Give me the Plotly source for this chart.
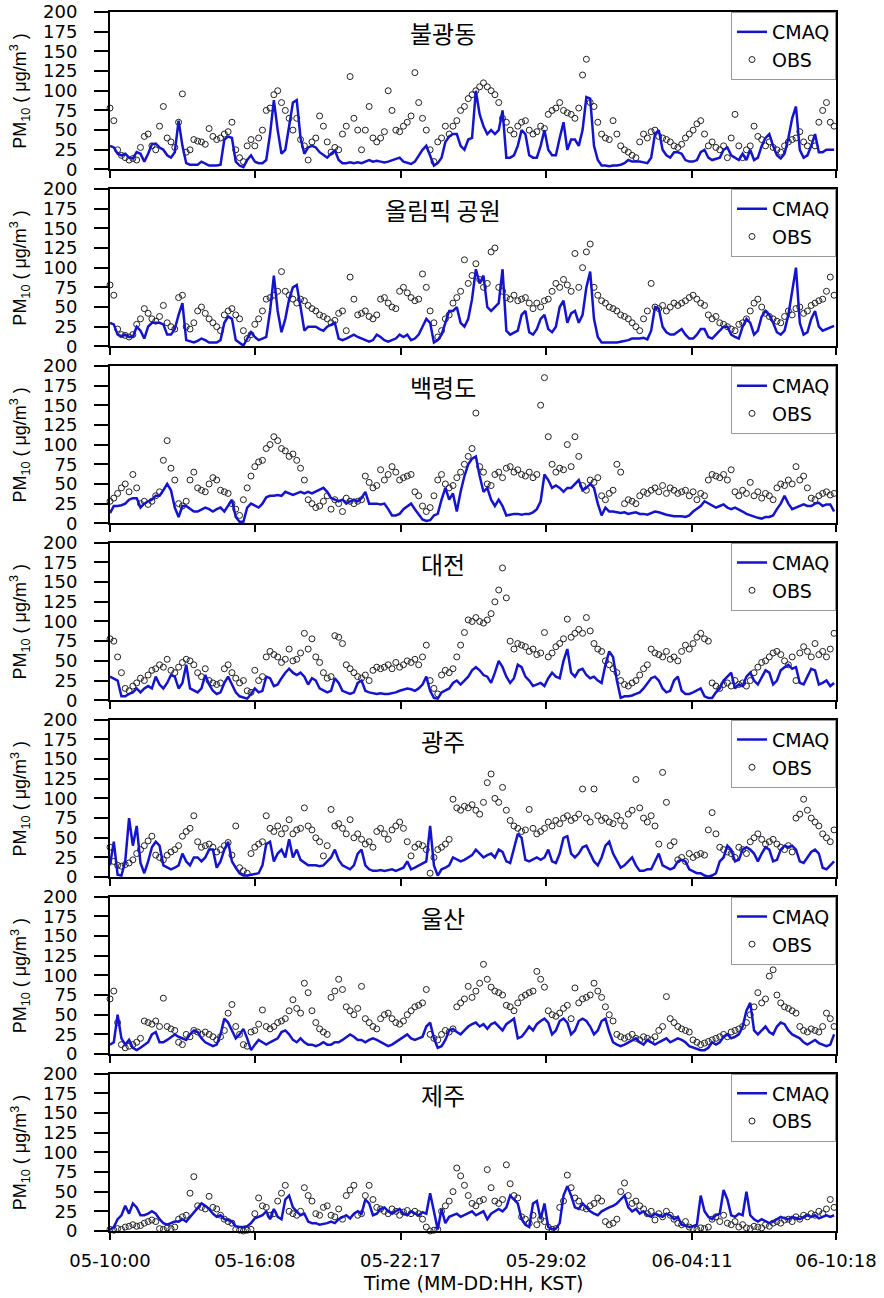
import plotly.graph_objects as go
from plotly.subplots import make_subplots

# ---------------- data (4-hourly samples) ----------------
hours = list(range(0, 761, 4))  # hours since 05-10:00 KST
stations = ["불광동", "올림픽 공원", "백령도", "대전", "광주", "울산", "제주"]
tick_hours = [0, 152, 305, 458, 611, 762]
tick_labels = ["05-10:00", "05-16:08", "05-22:17", "05-29:02", "06-04:11", "06-10:18"]
y_ticks = [0, 25, 50, 75, 100, 125, 150, 175, 200]

cmaq_bulgwang = [
    30, 28, 20, 18, 20, 15, 14, 22, 20, 10, 20, 32, 33, 28, 25, 18, 15, 22,
    62, 30, 8, 6, 6, 6, 10, 8, 5, 5, 5, 6, 38, 42, 40, 10, 5, 3,
    12, 18, 10, 8, 8, 12, 45, 88, 50, 20, 25, 55, 85, 88, 40, 20, 28, 30,
    28, 22, 18, 15, 20, 24, 12, 8, 8, 9, 8, 9, 8, 10, 12, 10, 11, 10,
    9, 10, 12, 14, 15, 10, 8, 7, 10, 18, 25, 30, 18, 5, 8, 15, 35, 42,
    45, 45, 30, 25, 38, 40, 100, 70, 55, 45, 50, 45, 50, 75, 15, 15, 18, 30,
    50, 45, 18, 15, 15, 30, 50, 25, 18, 18, 40, 60, 25, 38, 38, 30, 50, 92,
    90, 30, 12, 5, 5, 4, 5, 5, 6, 8, 12, 10, 10, 10, 9, 8, 15, 45,
    50, 25, 18, 15, 22, 22, 20, 12, 10, 10, 12, 22, 25, 15, 12, 14, 15, 25,
    28, 18, 15, 12, 20, 12, 25, 12, 15, 30, 40, 45, 30, 18, 14, 20, 40, 65,
    80, 25, 15, 18, 30, 45, 22, 22, 25, 25, 25]
obs_bulgwang = [
    78, 62, 25, 18, 15, 12, 14, 12, 28, 42, 45, 30, 25, 55, 80, 40, 35, 28,
    60, 96, 22, 25, 38, 36, 35, 32, 52, 42, 38, 40, 45, 48, 60, 25, 15, 10,
    30, 38, 30, 40, 50, 75, 78, 95, 100, 85, 75, 65, 50, 65, 38, 30, 12, 35,
    40, 68, 55, 35, 22, 28, 25, 45, 55, 118, 65, 50, 25, 50, 80, 40, 35, 40,
    48, 100, 75, 50, 48, 55, 60, 68, 123, 85, 65, 50, 25, 10, 35, 40, 55, 45,
    55, 62, 75, 80, 90, 95, 100, 105, 110, 105, 100, 95, 85, 65, 60, 50, 45, 55,
    60, 62, 50, 45, 48, 55, 52, 70, 75, 78, 85, 75, 72, 70, 65, 78, 120, 140,
    85, 80, 60, 45, 40, 38, 62, 45, 30, 25, 22, 18, 15, 35, 45, 40, 48, 50,
    42, 40, 38, 35, 30, 28, 32, 40, 45, 50, 58, 62, 45, 30, 35, 28, 25, 30,
    15, 40, 70, 30, 15, 25, 30, 55, 42, 38, 30, 35, 28, 25, 22, 30, 35, 38,
    40, 48, 35, 30, 40, 30, 60, 75, 85, 60, 55]

cmaq_olympic = [
    30, 28, 15, 13, 15, 12, 12, 25, 20, 10, 25, 30, 30, 30, 28, 15, 15, 22,
    40, 55, 8, 6, 5, 7, 10, 8, 5, 5, 5, 8, 30, 38, 35, 8, 4, 1,
    10, 18, 12, 8, 10, 12, 45, 90, 45, 18, 35, 60, 75, 78, 50, 20, 25, 25,
    25, 22, 20, 25, 28, 30, 10, 8, 10, 12, 15, 12, 10, 8, 6, 8, 15, 12,
    8, 6, 8, 10, 15, 12, 15, 8, 10, 15, 25, 35, 30, 5, 8, 15, 30, 45,
    45, 50, 30, 25, 35, 60, 98, 80, 90, 50, 45, 50, 55, 98, 20, 15, 18, 20,
    40, 45, 18, 15, 22, 35, 40, 22, 18, 25, 50, 58, 30, 42, 45, 30, 40, 75,
    95, 35, 12, 5, 5, 5, 5, 5, 6, 7, 8, 10, 10, 10, 11, 9, 20, 50,
    48, 25, 18, 15, 15, 18, 22, 15, 10, 10, 15, 22, 22, 12, 10, 15, 20, 25,
    25, 15, 12, 10, 25, 35, 30, 15, 20, 38, 45, 40, 30, 18, 15, 20, 40, 70,
    100, 30, 15, 18, 35, 45, 25, 20, 22, 25, 26]
obs_olympic = [
    78, 65, 22, 15, 14, 12, 15, 28, 35, 48, 42, 35, 32, 38, 52, 30, 25, 22,
    62, 65, 25, 22, 30, 45, 50, 42, 35, 30, 25, 20, 40, 45, 48, 40, 35, 20,
    10, 15, 28, 35, 45, 60, 62, 65, 70, 95, 70, 65, 60, 55, 60, 58, 52, 48,
    45, 40, 38, 35, 30, 33, 42, 45, 20, 88, 60, 40, 42, 45, 38, 35, 40, 60,
    62, 55, 50, 48, 70, 75, 68, 62, 58, 60, 92, 75, 45, 30, 12, 20, 35, 40,
    55, 62, 70, 110, 80, 90, 105, 85, 75, 80, 120, 125, 75, 70, 62, 60, 65, 58,
    60, 62, 55, 48, 55, 50, 58, 60, 70, 80, 75, 85, 78, 70, 118, 75, 100, 120,
    130, 75, 65, 58, 55, 50, 48, 45, 40, 38, 35, 30, 25, 20, 35, 45, 80, 50,
    48, 52, 45, 50, 55, 52, 55, 58, 62, 65, 60, 55, 52, 40, 35, 38, 30, 28,
    25, 22, 20, 28, 30, 35, 45, 55, 60, 50, 42, 38, 35, 32, 30, 38, 45, 40,
    48, 50, 42, 45, 52, 55, 58, 60, 70, 88, 65]

cmaq_baengnyeong = [
    13, 22, 22, 23, 25, 30, 32, 32, 20, 25, 28, 30, 35, 35, 42, 50, 42, 20,
    8, 22, 22, 18, 15, 15, 18, 20, 18, 15, 18, 20, 15, 22, 30, 8, 2, 2,
    20, 25, 22, 20, 25, 33, 35, 35, 36, 35, 40, 38, 36, 38, 40, 38, 40, 38,
    40, 42, 45, 40, 32, 30, 28, 30, 25, 28, 30, 28, 32, 40, 25, 25, 25, 24,
    25, 18, 10, 10, 12, 18, 22, 25, 18, 12, 5, 3, 4, 10, 12, 30, 45, 30,
    38, 15, 40, 60, 75, 82, 85, 60, 40, 45, 30, 22, 30, 22, 10, 11, 12, 12,
    11, 12, 12, 14, 18, 28, 62, 55, 45, 48, 45, 40, 45, 45, 50, 55, 42, 45,
    50, 45, 25, 10, 20, 15, 15, 14, 13, 14, 12, 13, 14, 12, 12, 11, 13, 15,
    14, 12, 11, 10, 9, 9, 9, 8, 10, 15, 18, 22, 28, 25, 22, 20, 22, 24,
    20, 18, 20, 18, 15, 12, 10, 8, 7, 6, 8, 8, 10, 18, 25, 35, 25, 18,
    20, 22, 24, 22, 22, 25, 26, 22, 24, 24, 15]
obs_baengnyeong = [
    28, 32, 38, 45, 50, 40, 62, 45, 25, 28, 24, 28, 35, 40, 80, 105, 70, 55,
    25, 22, 28, 55, 65, 45, 42, 40, 50, 58, 55, 42, 40, 38, 25, 18, 10, 30,
    45, 60, 72, 78, 80, 95, 100, 110, 105, 95, 92, 85, 88, 80, 70, 55, 30, 25,
    20, 22, 28, 35, 18, 30, 25, 15, 32, 28, 25, 28, 30, 60, 52, 45, 48, 68,
    55, 62, 72, 65, 55, 58, 60, 62, 40, 35, 22, 15, 20, 35, 55, 62, 50, 45,
    48, 58, 65, 75, 85, 95, 140, 72, 65, 50, 48, 62, 65, 58, 70, 72, 65, 68,
    62, 60, 65, 58, 62, 150, 185, 110, 75, 65, 70, 68, 100, 72, 110, 85, 48, 42,
    55, 52, 58, 35, 30, 38, 42, 75, 65, 25, 30, 28, 25, 35, 40, 38, 42, 45,
    40, 48, 38, 45, 42, 38, 40, 42, 35, 40, 30, 38, 35, 55, 62, 60, 58, 62,
    55, 68, 40, 35, 42, 38, 52, 35, 40, 32, 38, 35, 30, 45, 50, 48, 55, 50,
    72, 55, 60, 45, 32, 30, 35, 38, 40, 36, 38]

cmaq_daejeon = [
    30, 28, 25, 5, 5, 8, 10, 15, 10, 15, 18, 15, 30, 20, 15, 22, 32, 30,
    15, 22, 45, 15, 12, 10, 15, 32, 20, 12, 8, 10, 22, 30, 20, 10, 5, 3,
    2, 8, 15, 10, 12, 30, 28, 18, 20, 28, 35, 40, 35, 32, 35, 30, 20, 28,
    25, 15, 12, 10, 12, 28, 22, 12, 10, 8, 10, 22, 25, 12, 10, 9, 8, 9,
    8, 8, 9, 10, 12, 14, 15, 14, 12, 15, 20, 30, 12, 3, 2, 10, 12, 15,
    22, 25, 20, 25, 30, 38, 42, 38, 32, 30, 22, 35, 50, 42, 30, 22, 28, 45,
    42, 30, 25, 18, 20, 22, 18, 28, 35, 30, 28, 50, 65, 35, 30, 38, 40, 32,
    28, 30, 25, 22, 45, 62, 55, 25, 3, 5, 5, 6, 8, 10, 15, 22, 28, 30,
    25, 15, 10, 12, 25, 30, 12, 8, 8, 10, 12, 15, 5, 3, 3, 10, 15, 25,
    30, 35, 15, 20, 18, 30, 35, 25, 20, 30, 38, 35, 20, 25, 38, 42, 45, 40,
    42, 22, 20, 30, 40, 38, 20, 22, 25, 18, 22]
obs_daejeon = [
    78, 75, 55, 35, 15, 12, 18, 22, 28, 25, 32, 38, 40, 45, 42, 52, 38, 35,
    42, 48, 52, 50, 45, 35, 30, 40, 25, 22, 20, 22, 40, 45, 35, 28, 22, 25,
    12, 10, 38, 25, 30, 55, 62, 58, 55, 48, 52, 65, 50, 52, 60, 85, 65, 78,
    55, 48, 35, 28, 30, 82, 80, 72, 45, 40, 35, 30, 28, 32, 25, 38, 42, 40,
    42, 45, 40, 48, 42, 45, 50, 48, 52, 45, 55, 70, 25, 15, 8, 32, 38, 35,
    40, 55, 70, 86, 102, 100, 105, 100, 98, 102, 110, 125, 140, 168, 130, 75, 65, 72,
    70, 68, 62, 65, 58, 60, 86, 55, 60, 68, 72, 78, 103, 80, 85, 90, 85, 105,
    88, 72, 65, 62, 50, 45, 40, 35, 25, 20, 18, 22, 25, 32, 40, 45, 65, 60,
    58, 55, 62, 52, 55, 50, 62, 70, 65, 72, 80, 85, 78, 75, 22, 18, 15, 20,
    22, 18, 25, 20, 22, 18, 25, 35, 42, 48, 50, 55, 60, 62, 58, 50, 45, 55,
    25, 60, 68, 62, 55, 72, 58, 62, 55, 65, 85]

cmaq_gwangju = [
    15, 45, 3, 2, 20, 75, 40, 65, 18, 5, 20, 38, 45, 40, 15, 12, 10, 12,
    15, 30, 20, 15, 25, 25, 20, 25, 35, 35, 12, 20, 35, 45, 20, 12, 5, 2,
    2, 3, 4, 5, 15, 42, 45, 20, 30, 35, 25, 48, 25, 35, 22, 18, 15, 15,
    15, 14, 15, 20, 25, 35, 22, 15, 12, 10, 15, 30, 35, 15, 10, 8, 8, 9,
    8, 9, 10, 8, 10, 12, 20, 10, 12, 15, 18, 20, 65, 15, 2, 10, 12, 15,
    25, 22, 20, 22, 25, 28, 35, 30, 25, 28, 30, 25, 35, 32, 20, 18, 35, 55,
    50, 22, 20, 22, 25, 22, 25, 35, 20, 18, 30, 50, 52, 30, 25, 30, 38, 40,
    30, 20, 15, 25, 40, 45, 30, 20, 12, 15, 20, 25, 15, 8, 8, 10, 10, 20,
    30, 15, 12, 10, 12, 20, 22, 20, 10, 8, 5, 5, 2, 1, 2, 5, 20, 25,
    40, 35, 20, 22, 35, 38, 35, 30, 20, 30, 38, 35, 20, 22, 35, 40, 38, 40,
    35, 20, 18, 25, 32, 35, 30, 12, 10, 15, 20]
obs_gwangju = [
    38, 20, 15, 14, 16, 18, 22, 30, 35, 40, 46, 52, 28, 25, 22, 28, 32, 35,
    40, 52, 58, 62, 78, 45, 38, 40, 42, 38, 32, 35, 40, 44, 28, 65, 12, 8,
    5, 30, 38, 42, 45, 78, 62, 58, 65, 55, 62, 73, 55, 60, 62, 88, 65, 60,
    50, 45, 27, 40, 86, 65, 68, 62, 55, 73, 50, 55, 48, 42, 45, 38, 58, 62,
    55, 48, 60, 65, 70, 62, 45, 27, 38, 42, 40, 35, 5, 25, 35, 38, 42, 48,
    99, 88, 85, 90, 88, 92, 85, 80, 95, 120, 131, 100, 95, 114, 85, 72, 65, 62,
    58, 60, 86, 62, 55, 58, 62, 70, 65, 72, 68, 75, 78, 72, 75, 80, 112, 75,
    70, 112, 78, 72, 75, 70, 68, 78, 72, 65, 80, 85, 124, 88, 75, 70, 78, 65,
    42, 133, 95, 40, 45, 22, 25, 20, 30, 25, 28, 30, 28, 60, 82, 55, 38, 35,
    32, 30, 25, 38, 35, 30, 45, 50, 55, 48, 42, 45, 48, 42, 38, 35, 40, 32,
    75, 80, 99, 85, 75, 70, 65, 55, 50, 45, 60]

cmaq_ulsan = [
    12, 15, 50, 20, 12, 18, 8, 5, 8, 12, 15, 25, 28, 15, 15, 18, 22, 25,
    22, 20, 18, 25, 30, 28, 20, 15, 12, 10, 12, 25, 45, 40, 30, 20, 25, 32,
    20, 5, 12, 18, 15, 12, 15, 18, 20, 28, 30, 25, 18, 15, 20, 15, 12, 12,
    10, 12, 15, 12, 12, 15, 15, 18, 22, 25, 22, 18, 18, 15, 18, 20, 18, 15,
    12, 10, 12, 15, 18, 22, 25, 20, 18, 20, 22, 35, 40, 20, 8, 10, 18, 30,
    32, 28, 25, 30, 35, 38, 40, 35, 38, 32, 38, 40, 35, 30, 38, 42, 45, 20,
    22, 28, 35, 30, 38, 42, 45, 40, 25, 30, 42, 45, 40, 25, 30, 42, 45, 42,
    35, 25, 30, 42, 45, 28, 15, 12, 10, 12, 15, 18, 20, 15, 12, 18, 15, 12,
    15, 18, 20, 15, 18, 20, 18, 15, 10, 8, 6, 5, 5, 8, 15, 12, 15, 22,
    25, 20, 22, 25, 35, 55, 65, 30, 25, 30, 35, 28, 25, 35, 40, 38, 30, 25,
    22, 20, 15, 12, 15, 18, 14, 12, 10, 12, 25]
obs_ulsan = [
    70, 80, 40, 12, 8, 10, 12, 15, 20, 42, 40, 38, 42, 35, 71, 35, 32, 30,
    15, 12, 25, 22, 30, 28, 25, 28, 25, 22, 18, 22, 30, 52, 63, 35, 25, 12,
    10, 28, 30, 38, 56, 35, 32, 35, 40, 42, 45, 55, 69, 58, 52, 90, 78, 55,
    40, 32, 28, 25, 72, 80, 95, 82, 60, 55, 50, 58, 86, 45, 40, 35, 32, 45,
    50, 52, 45, 40, 38, 42, 50, 55, 60, 62, 65, 82, 25, 20, 18, 25, 30, 28,
    32, 60, 65, 70, 86, 72, 80, 90, 114, 95, 85, 80, 78, 75, 62, 60, 55, 65,
    72, 75, 78, 80, 105, 95, 85, 55, 50, 48, 52, 58, 62, 45, 84, 65, 70, 72,
    75, 90, 80, 72, 60, 50, 42, 25, 22, 20, 22, 25, 20, 18, 22, 20, 18, 22,
    30, 35, 73, 45, 40, 35, 32, 30, 28, 18, 15, 12, 14, 16, 18, 20, 22, 25,
    22, 28, 30, 32, 35, 40, 50, 60, 78, 65, 70, 99, 107, 75, 65, 60, 58, 55,
    52, 35, 30, 28, 32, 30, 28, 35, 52, 45, 35]

cmaq_jeju = [
    2, 5, 15, 20, 32, 22, 35, 30, 20, 20, 22, 25, 22, 15, 10, 8, 10, 12,
    12, 15, 12, 18, 24, 30, 35, 32, 28, 22, 18, 20, 15, 14, 12, 6, 5, 5,
    6, 10, 16, 18, 20, 25, 15, 28, 18, 15, 40, 45, 30, 25, 20, 22, 12, 10,
    10, 8, 9, 10, 12, 10, 15, 18, 20, 16, 22, 25, 22, 40, 35, 20, 22, 28,
    30, 25, 22, 25, 28, 22, 20, 25, 22, 20, 24, 22, 48, 25, 2, 28, 10, 18,
    20, 22, 18, 20, 22, 25, 20, 22, 25, 15, 22, 25, 28, 25, 30, 45, 40, 35,
    15, 8, 5, 35, 38, 15, 35, 5, 2, 3, 10, 45, 57, 45, 30, 28, 35, 30,
    25, 22, 20, 25, 28, 30, 32, 35, 40, 45, 30, 25, 28, 22, 25, 20, 18, 22,
    20, 18, 22, 20, 15, 18, 8, 6, 5, 6, 8, 45, 25, 18, 15, 20, 22, 52,
    40, 20, 18, 22, 20, 50, 20, 15, 12, 15, 12, 10, 12, 15, 18, 16, 15, 18,
    16, 15, 18, 20, 18, 20, 16, 18, 20, 18, 20]
obs_jeju = [
    2, 1, 3, 2, 5, 6, 8, 6, 7, 10, 12, 14, 12, 3, 2, 4, 3, 5,
    15, 18, 20, 48, 69, 32, 30, 28, 44, 30, 28, 20, 15, 12, 10, 2, 1, 0,
    1, 2, 22, 42, 32, 30, 20, 22, 38, 48, 58, 25, 22, 20, 25, 55, 45, 38,
    22, 20, 30, 32, 20, 18, 28, 15, 45, 52, 58, 20, 22, 45, 58, 40, 30, 28,
    25, 22, 28, 25, 20, 24, 26, 22, 25, 22, 15, 5, 0, 1, 2, 25, 32, 38,
    50, 80, 70, 58, 45, 35, 32, 38, 40, 78, 55, 38, 35, 40, 84, 60, 45, 42,
    18, 15, 10, 20, 8, 15, 12, 5, 2, 3, 30, 38, 71, 55, 42, 38, 30, 28,
    32, 35, 42, 38, 12, 8, 10, 15, 50, 61, 45, 35, 38, 32, 28, 22, 25, 14,
    22, 18, 25, 20, 15, 10, 8, 12, 5, 3, 2, 4, 3, 5, 15, 18, 12, 20,
    10, 8, 12, 5, 8, 4, 3, 6, 5, 4, 8, 6, 10, 12, 10, 14, 15, 12,
    18, 15, 20, 18, 22, 20, 25, 22, 28, 40, 30]

cmaq_series = [cmaq_bulgwang, cmaq_olympic, cmaq_baengnyeong, cmaq_daejeon,
               cmaq_gwangju, cmaq_ulsan, cmaq_jeju]
obs_series = [obs_bulgwang, obs_olympic, obs_baengnyeong, obs_daejeon,
              obs_gwangju, obs_ulsan, obs_jeju]

# ---------------- layout geometry ----------------
W, H = 884, 1298
L, R = 110, 835.7
T = 11.7
PERIOD = 176.93
PH = 157.5
B = H - (T + PERIOD * 6 + PH)
AW = R - L
AH = H - T - B


def py(px):
    """pixel y (from top of page) -> paper y"""
    return 1 - (px - T) / AH


def px_x(px):
    return (px - L) / AW


BLUE = "#1414cc"
TICKFONT = dict(family="DejaVu Sans", size=18, color="black")

fig = make_subplots(rows=7, cols=1)
annotations = []
for i in range(7):
    r = i + 1
    lg = "legend" if i == 0 else f"legend{r}"
    fig.add_trace(go.Scatter(
        x=hours, y=obs_series[i], mode="markers", name="OBS", legend=lg,
        legendrank=2, cliponaxis=False,
        marker=dict(symbol="circle-open", size=6, color="#222222",
                    line=dict(width=1, color="#222222"))), row=r, col=1)
    fig.add_trace(go.Scatter(
        x=hours, y=cmaq_series[i], mode="lines", name="CMAQ", legend=lg,
        legendrank=1, line=dict(color=BLUE, width=2.5)), row=r, col=1)

    top_px = T + PERIOD * i
    bot_px = top_px + PH
    fig.update_yaxes(
        row=r, col=1, domain=[py(bot_px), py(top_px)], range=[0, 200],
        tickvals=y_ticks, ticks="outside", ticklen=14, tickwidth=2,
        tickcolor="black", showline=True, linecolor="black", linewidth=2,
        mirror=True, showgrid=False, zeroline=False, tickfont=TICKFONT,
        ticklabelstandoff=13, automargin=False)
    fig.update_xaxes(
        row=r, col=1, domain=[0, 1], range=[0, 762], tickvals=tick_hours,
        ticktext=tick_labels, showticklabels=(i == 6), ticks="outside",
        ticklen=7, tickwidth=2, tickcolor="black", showline=True,
        linecolor="black", linewidth=2, mirror=True, showgrid=False,
        zeroline=False, automargin=False,
        tickfont=dict(family="DejaVu Sans", size=18, color="black"),
        ticklabelstandoff=5)

    legend_cfg = dict(
        x=1, xanchor="right", y=py(top_px), yanchor="top", xref="paper",
        yref="paper", bgcolor="white", bordercolor="#9a9a9a", borderwidth=1,
        font=dict(family="DejaVu Sans", size=19, color="black"),
        itemwidth=30, tracegroupgap=0)
    fig.update_layout(**{lg: legend_cfg})

    annotations.append(dict(
        text=stations[i], xref="paper", yref="paper", x=px_x(443),
        y=py(top_px + 21), showarrow=False, xanchor="center", yanchor="middle",
        font=dict(family="Noto Sans CJK KR", size=24, color="black")))
    annotations.append(dict(
        text="PM<sub>10</sub> ( μg/m<sup>3</sup> )", xref="paper",
        yref="paper", x=px_x(20), y=py((top_px + bot_px) / 2),
        showarrow=False, textangle=-90, xanchor="center", yanchor="middle",
        font=dict(family="Liberation Sans", size=18, color="black")))

annotations.append(dict(
    text="Time (MM-DD:HH, KST)", xref="paper", yref="paper", x=0.5,
    y=py(1283), showarrow=False, xanchor="center", yanchor="middle",
    font=dict(family="DejaVu Sans", size=19, color="black")))

fig.update_layout(
    width=W, height=H, margin=dict(l=L, r=W - R, t=T, b=B, pad=0),
    paper_bgcolor="white", plot_bgcolor="white", showlegend=True,
    annotations=annotations, font=dict(family="DejaVu Sans", color="black"))

# place the figure at the page's top-left corner (no default body margin)
fig.write_html("out.html",
               config={"displayModeBar": False},
               post_script="document.body.style.margin='0';"
                           "document.body.style.padding='0';")
